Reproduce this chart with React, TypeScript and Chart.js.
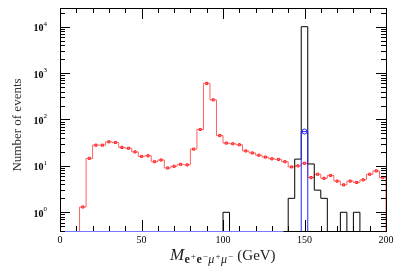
import { useEffect, useRef } from 'react';
import { Chart, registerables } from 'chart.js';

Chart.register(...registerables);

// ---- data (4 GeV bins from 0 to 200 GeV) ----
const BIN_WIDTH = 4;
const redCounts = [
  0, 0, 0, 1.3, 14.5, 28, 28, 33, 32, 25,
  24, 20, 16, 16.5, 12.3, 13.4, 9, 9.8, 10.8, 10.5,
  23, 61, 600, 265, 45, 31, 30, 28.5, 21, 19,
  17, 15.5, 14.2, 13.8, 12.3, 9.5, 10, 11.4, 5.6, 6.6,
  5.4, 6.2, 4.7, 3.9, 4.7, 4.4, 5.0, 6.6, 7.8, 5.6,
];
const blackCounts = [
  0, 0, 0, 0, 0, 0, 0, 0, 0, 0,
  0, 0, 0, 0, 0, 0, 0, 0, 0, 0,
  0, 0, 0, 0, 0, 1, 0, 0, 0, 0,
  0, 0, 0, 0, 0, 2, 14, 10000, 11, 3,
  2, 0, 0, 1, 0, 1, 0, 0, 0, 0,
];
const blueCounts = [
  0, 0, 0, 0, 0, 0, 0, 0, 0, 0,
  0, 0, 0, 0, 0, 0, 0, 0, 0, 0,
  0, 0, 0, 0, 0, 0, 0, 0, 0, 0,
  0, 0, 0, 0, 0, 0, 0, 55, 0, 0,
  0, 0, 0, 0, 0, 0, 0, 0, 0, 0,
];
const xTickLabels = [0, 50, 100, 150, 200];
const yDecadeExponents = [0, 1, 2, 3, 4];

const X_MIN = 0;
const X_MAX = 200;
const Y_MIN = 0.395;
const Y_MAX = 25300;
const FLOOR = 1e-3;

function stepPoints(counts: number[]) {
  const pts: { x: number; y: number }[] = [{ x: 0, y: FLOOR }];
  counts.forEach((c, i) => pts.push({ x: i * BIN_WIDTH, y: c > 0 ? c : FLOOR }));
  const last = counts[counts.length - 1];
  pts.push({ x: counts.length * BIN_WIDTH, y: last > 0 ? last : FLOOR });
  pts.push({ x: counts.length * BIN_WIDTH, y: FLOOR });
  return pts;
}

function centerPoints(counts: number[]) {
  const pts: { x: number; y: number }[] = [];
  counts.forEach((c, i) => {
    if (c > 0) pts.push({ x: i * BIN_WIDTH + BIN_WIDTH / 2, y: c });
  });
  return pts;
}

const SERIF = '"Liberation Serif", "DejaVu Serif", serif';

const framePlugin = {
  id: 'frame',
  afterDatasetsDraw(chart: any) {
    const { ctx, chartArea } = chart;
    const xs = chart.scales.x;
    const ys = chart.scales.y;
    const { left, right, top, bottom } = chartArea;
    ctx.save();
    ctx.lineWidth = 1;
    // frame
    ctx.strokeStyle = '#000';
    ctx.beginPath();
    ctx.moveTo(left + 0.5, bottom + 0.5);
    ctx.lineTo(left + 0.5, top + 0.5);
    ctx.lineTo(right + 0.5, top + 0.5);
    ctx.lineTo(right + 0.5, bottom + 0.5);
    ctx.stroke();
    // bottom edge (blue part, then black)
    const splitPx = xs.getPixelForValue(137);
    ctx.strokeStyle = '#7878ff';
    ctx.beginPath();
    ctx.moveTo(left, bottom + 0.5);
    ctx.lineTo(splitPx, bottom + 0.5);
    ctx.stroke();
    ctx.strokeStyle = '#000';
    ctx.beginPath();
    ctx.moveTo(splitPx, bottom + 0.5);
    ctx.lineTo(right + 1, bottom + 0.5);
    ctx.stroke();

    // x ticks (inward, top & bottom)
    ctx.strokeStyle = '#000';
    ctx.beginPath();
    for (let v = X_MIN; v <= X_MAX; v += 10) {
      const px = Math.round(xs.getPixelForValue(v)) + 0.5;
      const len = v % 50 === 0 ? 11 : 5;
      ctx.moveTo(px, bottom);
      ctx.lineTo(px, bottom - len);
      ctx.moveTo(px, top);
      ctx.lineTo(px, top + len);
    }
    ctx.stroke();

    // y ticks (inward, left & right)
    ctx.beginPath();
    for (let e = -1; e <= 4; e++) {
      for (let m = 1; m <= 9; m++) {
        const v = m * Math.pow(10, e);
        if (v < Y_MIN || v > Y_MAX) continue;
        const py = Math.round(ys.getPixelForValue(v)) + 0.5;
        const len = m === 1 ? 10 : 5;
        ctx.moveTo(left, py);
        ctx.lineTo(left + len, py);
        ctx.moveTo(right, py);
        ctx.lineTo(right - len, py);
      }
    }
    ctx.stroke();

    // x tick labels
    ctx.fillStyle = '#000';
    ctx.font = `10px ${SERIF}`;
    ctx.textAlign = 'center';
    ctx.textBaseline = 'middle';
    xTickLabels.forEach((v) => {
      ctx.fillText(String(v), xs.getPixelForValue(v), bottom + 9);
    });

    // y tick labels 10^n
    yDecadeExponents.forEach((e) => {
      const py = ys.getPixelForValue(Math.pow(10, e));
      ctx.font = `7px ${SERIF}`;
      const sup = String(e);
      const supW = ctx.measureText(sup).width;
      ctx.textAlign = 'right';
      ctx.textBaseline = 'middle';
      ctx.fillText(sup, left - 13, py - 3);
      ctx.font = `bold 10px ${SERIF}`;
      ctx.fillText('10', left - 13 - supW, py + 2);
    });

    // y title
    ctx.save();
    ctx.translate(18, 125);
    ctx.rotate(-Math.PI / 2);
    ctx.font = `13px ${SERIF}`;
    ctx.fillStyle = '#333';
    ctx.textAlign = 'center';
    ctx.textBaseline = 'middle';
    ctx.fillText('Number of events', 0, 0);
    ctx.restore();

    // x title: M_{e+e-mu+mu-} (GeV)
    const pieces: { t: string; f: string; dy: number }[] = [
      { t: 'M', f: `italic 17px ${SERIF}`, dy: 0 },
      { t: 'e', f: `bold 12px ${SERIF}`, dy: 3 },
      { t: '+', f: `9px ${SERIF}`, dy: -1 },
      { t: 'e', f: `bold 12px ${SERIF}`, dy: 3 },
      { t: '\u2212', f: `9px ${SERIF}`, dy: -1 },
      { t: '\u03bc', f: `italic 12px ${SERIF}`, dy: 3 },
      { t: '+', f: `9px ${SERIF}`, dy: -1 },
      { t: '\u03bc', f: `italic 12px ${SERIF}`, dy: 3 },
      { t: '\u2212', f: `9px ${SERIF}`, dy: -1 },
      { t: ' (GeV)', f: `15px ${SERIF}`, dy: 0 },
    ];
    let total = 0;
    const widths = pieces.map((p) => {
      ctx.font = p.f;
      const w = ctx.measureText(p.t).width + (p.dy === 3 ? 1 : 0.5);
      total += w;
      return w;
    });
    let cx = (left + right) / 2 - total / 2;
    const baseY = 260;
    ctx.textAlign = 'left';
    ctx.textBaseline = 'alphabetic';
    ctx.fillStyle = '#222';
    pieces.forEach((p, i) => {
      ctx.font = p.f;
      ctx.fillText(p.t, cx, baseY + p.dy);
      cx += widths[i];
    });
    ctx.restore();
  },
};

export default function App() {
  const ref = useRef<HTMLCanvasElement | null>(null);
  useEffect(() => {
    if (!ref.current) return;
    const chart = new Chart(ref.current, {
      type: 'line',
      data: {
        datasets: [
          {
            label: 'red',
            data: stepPoints(redCounts),
            borderColor: '#ff6060',
            borderWidth: 1,
            stepped: true,
            pointRadius: 0,
            fill: false,
            order: 4,
          },
          {
            label: 'red points',
            type: 'scatter',
            data: centerPoints(redCounts),
            pointStyle: 'rect',
            pointRadius: 1.5,
            borderColor: '#ff2020',
            backgroundColor: 'rgba(255,160,160,0.5)',
            borderWidth: 1,
            order: 3,
          } as any,
          {
            label: 'black',
            data: stepPoints(blackCounts),
            borderColor: '#000',
            borderWidth: 1,
            stepped: true,
            pointRadius: 0,
            fill: false,
            order: 2,
          },
          {
            label: 'blue',
            data: stepPoints(blueCounts),
            borderColor: '#2828ff',
            borderWidth: 1,
            stepped: true,
            pointRadius: 0,
            fill: false,
            order: 1,
          },
          {
            label: 'blue point',
            type: 'scatter',
            data: centerPoints(blueCounts),
            pointStyle: 'circle',
            pointRadius: 2.5,
            borderColor: '#2020ff',
            backgroundColor: 'rgba(255,255,255,0)',
            borderWidth: 1,
            order: 0,
          } as any,
        ],
      },
      options: {
        animation: false,
        responsive: false,
        maintainAspectRatio: false,
        layout: { padding: { top: 8, right: 13, left: 0, bottom: 0 } },
        plugins: {
          legend: { display: false },
          tooltip: { enabled: false },
          title: { display: false },
        },
        scales: {
          x: {
            type: 'linear',
            min: X_MIN,
            max: X_MAX,
            ticks: { display: false, stepSize: 10 },
            grid: { display: false },
            border: { display: false },
            afterFit: (s: any) => {
              s.height = 42;
            },
          },
          y: {
            type: 'logarithmic',
            min: Y_MIN,
            max: Y_MAX,
            ticks: { display: false },
            grid: { display: false },
            border: { display: false },
            afterFit: (s: any) => {
              s.width = 60;
            },
          },
        },
      },
      plugins: [framePlugin],
    });
    return () => chart.destroy();
  }, []);
  return (
    <div style={{ position: 'absolute', left: 0, top: 0, width: 399, height: 273, background: '#fff' }}>
      <canvas ref={ref} width={399} height={273} style={{ display: 'block' }} />
    </div>
  );
}
